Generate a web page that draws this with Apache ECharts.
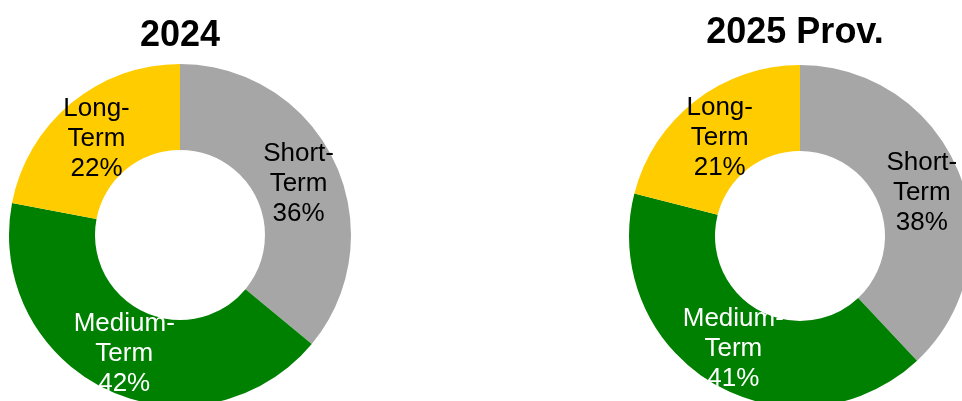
<!DOCTYPE html>
<html>
<head>
<meta charset="utf-8">
<script src="https://cdn.jsdelivr.net/npm/echarts@6/dist/echarts.min.js"></script>
<style>
html, body { margin: 0; padding: 0; background: #fff; }
#main { width: 962px; height: 401px; }
</style>
</head>
<body>
<div id="main"></div>
<script>
var categories = ['Short-Term', 'Medium-Term', 'Long-Term'];
var labelNames = ['Short-\nTerm', 'Medium-\nTerm', 'Long-\nTerm'];
var values2024 = [36, 42, 22];
var values2025 = [38, 41, 21];
var years = ['2024', '2025 Prov.'];
var colors = ['#A6A6A6', '#008000', '#FFCC00'];
var labelColors = ['#000000', '#FFFFFF', '#000000'];
var labelShift = [5, 0, 5];

function buildData(values) {
    return values.map(function (v, i) {
        return {
            value: v,
            name: categories[i],
            itemStyle: { color: colors[i] },
            label: {
                color: labelColors[i],
                offset: [0, labelShift[i]],
                formatter: labelNames[i] + '\n{d}%'
            }
        };
    });
}

function buildSeries(values, center) {
    return {
        type: 'pie',
        radius: [85, 171],
        center: center,
        startAngle: 90,
        clockwise: true,
        silent: true,
        itemStyle: { borderWidth: 0 },
        label: {
            show: true,
            position: 'inside',
            fontFamily: 'Liberation Sans, Arial, sans-serif',
            fontSize: 26,
            lineHeight: 30,
            align: 'center'
        },
        labelLine: { show: false },
        percentPrecision: 0,
        data: buildData(values)
    };
}

var myChart = echarts.init(document.getElementById('main'));
option = {
    animation: false,
    title: [
        {
            text: years[0],
            left: 175,
            top: 13,
            textAlign: 'center',
            textStyle: { fontFamily: 'Liberation Sans, Arial, sans-serif', fontSize: 36, fontWeight: 'bold', color: '#000' }
        },
        {
            text: years[1],
            left: 790,
            top: 10,
            textAlign: 'center',
            textStyle: { fontFamily: 'Liberation Sans, Arial, sans-serif', fontSize: 36, fontWeight: 'bold', color: '#000' }
        }
    ],
    series: [
        buildSeries(values2024, [180, 235]),
        buildSeries(values2025, [800, 236])
    ]
};
myChart.setOption(option);
</script>
</body>
</html>
